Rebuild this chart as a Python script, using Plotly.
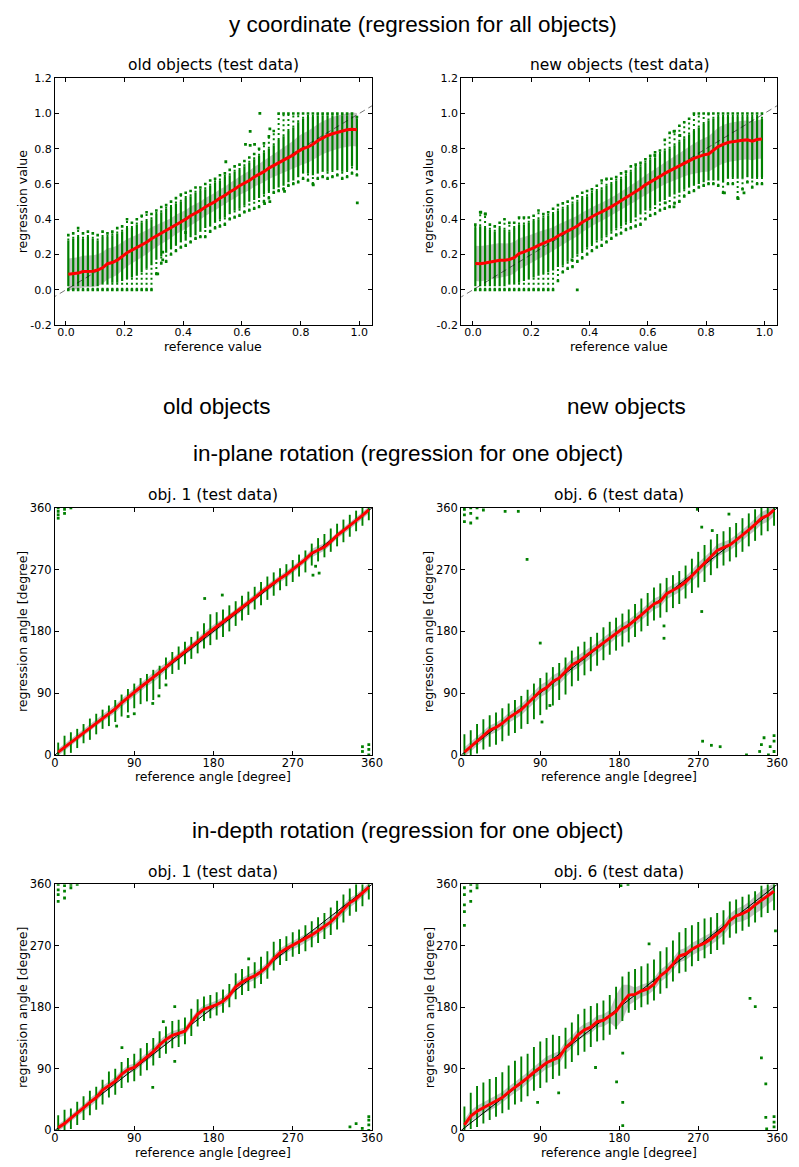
import plotly.graph_objects as go

# ---------------- data ----------------
# reference values of the 60 columns (top row, y coordinate)
ref_value = [0.0083,0.025,0.0417,0.0583,0.075,0.0917,0.1083,0.125,0.1417,0.1583,0.175,0.1917,
             0.2083,0.225,0.2417,0.2583,0.275,0.2917,0.3083,0.325,0.3417,0.3583,0.375,0.3917,
             0.4083,0.425,0.4417,0.4583,0.475,0.4917,0.5083,0.525,0.5417,0.5583,0.575,0.5917,
             0.6083,0.625,0.6417,0.6583,0.675,0.6917,0.7083,0.725,0.7417,0.7583,0.775,0.7917,
             0.8083,0.825,0.8417,0.8583,0.875,0.8917,0.9083,0.925,0.9417,0.9583,0.975,0.9917]

# old objects (test data)
old_mean = [0.088,0.090,0.095,0.104,0.105,0.106,0.112,0.125,0.148,0.155,0.168,0.190,
            0.210,0.225,0.240,0.255,0.270,0.290,0.305,0.320,0.335,0.350,0.370,0.385,
            0.400,0.420,0.435,0.450,0.470,0.485,0.500,0.520,0.535,0.555,0.570,0.590,
            0.605,0.620,0.640,0.655,0.670,0.690,0.705,0.720,0.735,0.750,0.765,0.785,
            0.800,0.810,0.825,0.845,0.862,0.875,0.885,0.893,0.900,0.907,0.910,0.907]
old_sd = [0.090,0.090,0.090,0.090,0.090,0.090,0.090,0.090,0.088,0.085,0.083,0.080,
          0.078,0.075,0.072,0.070,0.068,0.065,0.062,0.060,0.058,0.056,0.055,0.054,
          0.053,0.052,0.052,0.051,0.051,0.050,0.050,0.050,0.050,0.051,0.052,0.053,
          0.054,0.055,0.056,0.058,0.060,0.062,0.065,0.068,0.072,0.076,0.080,0.085,
          0.088,0.090,0.092,0.093,0.094,0.095,0.095,0.095,0.095,0.095,0.095,0.095]
old_min = [0,0,0,0,0,0,0,0,0,0,0,0,
           0,0,0,0,0,0,0.09,0.15,0.16,0.20,0.22,0.24,
           0.25,0.27,0.29,0.30,0.30,0.33,0.35,0.36,0.37,0.40,0.41,0.42,
           0.44,0.45,0.46,0.47,0.50,0.52,0.55,0.56,0.57,0.59,0.60,0.61,
           0.63,0.62,0.60,0.63,0.64,0.63,0.64,0.65,0.63,0.64,0.66,0.65]
old_lo = [0.02,0.02,0.02,0.02,0.02,0.02,0.02,0.03,0.03,0.04,0.04,0.05,
          0.06,0.07,0.08,0.10,0.12,0.14,0.17,0.19,0.21,0.23,0.25,0.27,
          0.28,0.30,0.31,0.33,0.35,0.36,0.38,0.40,0.41,0.43,0.45,0.46,
          0.48,0.50,0.51,0.52,0.54,0.56,0.57,0.58,0.59,0.61,0.62,0.64,
          0.66,0.66,0.65,0.66,0.67,0.67,0.68,0.68,0.67,0.68,0.70,0.68]
old_hi = [0.28,0.29,0.30,0.29,0.30,0.29,0.28,0.30,0.30,0.31,0.32,0.33,
          0.35,0.35,0.37,0.38,0.39,0.40,0.43,0.44,0.46,0.47,0.49,0.50,
          0.52,0.53,0.55,0.56,0.57,0.59,0.61,0.62,0.64,0.65,0.67,0.68,
          0.70,0.72,0.74,0.76,0.78,0.80,0.82,0.85,0.87,0.90,0.92,0.95,
          0.97,0.98,0.98,0.99,0.99,0.99,0.99,0.99,0.99,0.99,0.99,0.97]
old_max = [0.31,0.32,0.35,0.32,0.33,0.32,0.31,0.33,0.32,0.33,0.35,0.36,
           0.40,0.38,0.40,0.42,0.44,0.43,0.45,0.47,0.48,0.50,0.52,0.54,
           0.55,0.56,0.58,0.58,0.60,0.62,0.63,0.65,0.66,0.68,0.70,0.71,
           0.73,0.75,0.77,0.80,0.83,0.87,0.90,1.00,1.00,1.00,1.00,1.00,
           1.00,1.00,1.00,1.00,1.00,1.00,1.00,1.00,1.00,1.00,1.00,0.98]
old_out_x = [0.313,0.33,0.33,0.408,0.545,0.612,0.628,0.643,0.628,0.661,0.695,0.677,0.695,0.745,0.843,0.993]
old_out_y = [0.091,0.214,0.17,0.325,0.726,0.825,0.819,0.825,0.898,1.0,0.913,0.489,0.50,0.558,0.595,0.493]

# new objects (test data)
new_mean = [0.150,0.148,0.152,0.158,0.163,0.168,0.168,0.172,0.182,0.205,0.215,0.225,
            0.238,0.252,0.265,0.275,0.287,0.305,0.320,0.335,0.350,0.362,0.383,0.400,
            0.415,0.430,0.442,0.455,0.472,0.488,0.505,0.522,0.538,0.555,0.575,0.595,
            0.610,0.625,0.643,0.660,0.675,0.690,0.702,0.718,0.732,0.745,0.755,0.765,
            0.770,0.790,0.812,0.825,0.835,0.840,0.845,0.848,0.850,0.843,0.852,0.855]
new_sd = [0.100,0.100,0.100,0.100,0.100,0.098,0.095,0.092,0.090,0.088,0.085,0.082,
          0.080,0.077,0.074,0.071,0.068,0.066,0.064,0.062,0.060,0.058,0.056,0.055,
          0.054,0.053,0.052,0.052,0.051,0.051,0.051,0.052,0.052,0.053,0.054,0.055,
          0.056,0.058,0.060,0.062,0.064,0.066,0.070,0.075,0.080,0.085,0.090,0.095,
          0.100,0.105,0.108,0.110,0.110,0.110,0.110,0.110,0.110,0.110,0.110,0.110]
new_min = [0,0,0,0,0,0,0,0,0,0,0,0,
           0,0,0,0,0,0.05,0.10,0.12,0.13,0.16,0.18,0.20,
           0.22,0.24,0.25,0.27,0.29,0.31,0.32,0.34,0.35,0.36,0.37,0.40,
           0.42,0.43,0.45,0.46,0.47,0.49,0.50,0.53,0.55,0.56,0.58,0.59,
           0.60,0.60,0.59,0.55,0.60,0.60,0.52,0.57,0.61,0.58,0.60,0.60]
new_lo = [0.02,0.02,0.02,0.02,0.02,0.02,0.02,0.03,0.03,0.04,0.05,0.06,
          0.07,0.08,0.09,0.10,0.11,0.13,0.14,0.16,0.18,0.20,0.22,0.24,
          0.26,0.28,0.29,0.31,0.33,0.35,0.36,0.38,0.39,0.41,0.43,0.45,
          0.46,0.48,0.50,0.51,0.53,0.54,0.55,0.57,0.58,0.59,0.60,0.61,
          0.62,0.62,0.62,0.61,0.63,0.64,0.63,0.63,0.64,0.63,0.64,0.64]
new_hi = [0.35,0.36,0.35,0.34,0.33,0.35,0.34,0.33,0.35,0.37,0.37,0.38,
          0.39,0.40,0.41,0.42,0.43,0.45,0.46,0.47,0.49,0.50,0.52,0.53,
          0.55,0.56,0.57,0.59,0.60,0.62,0.63,0.65,0.67,0.69,0.70,0.72,
          0.74,0.75,0.77,0.79,0.80,0.82,0.84,0.86,0.88,0.90,0.92,0.94,
          0.96,0.97,0.98,0.98,0.98,0.98,0.98,0.98,0.98,0.98,0.98,0.97]
new_max = [0.37,0.44,0.43,0.37,0.36,0.38,0.40,0.38,0.38,0.41,0.41,0.41,
           0.42,0.45,0.43,0.44,0.46,0.48,0.49,0.50,0.52,0.53,0.55,0.56,
           0.57,0.59,0.62,0.63,0.63,0.64,0.66,0.67,0.70,0.71,0.72,0.74,
           0.76,0.78,0.79,0.85,0.89,0.90,0.93,0.95,0.97,1.00,1.00,1.00,
           1.00,1.00,1.00,1.00,1.00,1.00,1.00,1.00,1.00,1.00,1.00,1.00]
new_out_x = [0.358,0.027,0.043,0.34,0.69,0.71,0.66,0.69,0.91,0.93,0.863,0.624]
new_out_y = [0.0,0.44,0.43,0.17,0.898,0.875,0.493,0.47,0.517,0.55,0.55,0.763]

# reference angles of the 50 columns (rotation panels)
ref_angle = [3.6,10.8,18.0,25.2,32.4,39.6,46.8,54.0,61.2,68.4,75.6,82.8,90.0,97.2,104.4,111.6,118.8,
             126.0,133.2,140.4,147.6,154.8,162.0,169.2,176.4,183.6,190.8,198.0,205.2,212.4,219.6,
             226.8,234.0,241.2,248.4,255.6,262.8,270.0,277.2,284.4,291.6,298.8,306.0,313.2,320.4,
             327.6,334.8,342.0,349.2,356.4]

# in-plane rotation, obj. 1
ip1_mean = [4,11,19,26,33,40,47,54,60,67,76,84,91,99,106,113,121,128,136,143,
            150,157,165,173,180,187,193,200,208,214,221,229,237,244,251,257,263,270,277,285,
            294,299,303,311,320,327,334,341,349,357]
ip1_sd = [5,5,5,5,5,5,5,5,5,6,6,6,6,6,6,7,7,6,5,5,5,5,5,6,6,6,5,5,5,5,5,5,5,5,5,5,5,5,5,5,
          6,6,5,5,5,5,5,5,5,5]
ip1_lo = [0,0,3,10,17,22,30,38,42,48,56,62,68,74,78,80,96,110,118,124,132,140,148,155,160,168,
          172,180,188,196,204,212,218,226,232,240,246,252,260,266,276,282,288,296,304,310,318,326,334,342]
ip1_hi = [18,28,33,38,45,53,60,66,72,80,88,96,104,112,118,124,130,142,150,158,165,172,180,192,205,
          208,212,218,224,232,238,245,252,260,266,272,278,284,292,298,308,316,322,330,337,343,350,356,360,360]
ip1_out_x = [3.6,3.6,3.6,3.6,10.8,10.8,18,349.2,349.2,356.4,356.4,356.4,170,190,70,83,90,111,118,126,293,300,296]
ip1_out_y = [345,350,355,360,352,358,360,5,12,0,8,15,228,233,42,56,60,75,86,102,262,265,275]

# in-plane rotation, obj. 6
ip6_mean = [4,12,21,28,36,40,46,54,60,66,75,84,93,98,107,112,121,131,136,143,
            149,156,163,170,178,184,189,196,204,212,220,224,235,240,245,252,261,271,279,288,
            298,302,306,313,320,328,336,345,349,357]
ip6_sd = [7,7,7,7,7,7,7,7,8,8,8,9,9,9,9,9,9,9,9,8,8,8,8,8,8,8,8,8,8,8,8,8,8,8,8,8,8,9,9,9,
          9,8,8,8,8,8,9,9,9,9]
ip6_lo = [0,0,2,8,12,15,20,28,32,38,45,52,58,66,72,80,88,100,108,116,122,130,138,146,152,158,
          164,172,180,188,196,200,208,214,220,228,236,244,252,262,272,276,282,288,296,304,312,320,326,334]
ip6_hi = [30,36,45,52,58,62,68,75,80,86,95,104,112,120,128,134,142,152,158,165,172,178,186,194,200,
          206,212,220,228,236,244,250,258,262,268,276,286,296,306,314,322,326,332,338,345,352,358,360,360,360]
ip6_out_x = [3.6,3.6,3.6,10.8,10.8,10.8,18,18,25.2,50,65,75,90,92,101,231,231,275,285,295,325,340,342,
             345,350,352,356.4,356.4,356.4,269,274,286,305,274]
ip6_out_y = [340,350,358,338,352,360,345,360,357,355,355,285,163,48,72,188,170,20,14,12,0,5,15,
             25,0,12,5,20,28,358,332,327,351,209]

# in-depth rotation, obj. 1
id1_mean = [4,10,18,25,33,41,48,59,66,72,82,89,92,100,108,115,125,133,139,142,
            145,158,170,177,180,184,189,197,210,217,222,226,232,240,251,260,266,271,275,280,
            286,292,298,305,314,323,333,339,347,356]
id1_sd = [5,5,5,5,5,6,6,6,6,6,6,6,6,6,6,7,7,7,6,6,6,6,6,6,6,6,6,6,6,6,6,6,6,6,6,6,6,6,6,6,
          6,6,6,6,7,7,7,6,6,6]
id1_lo = [0,0,2,8,15,22,30,38,48,52,62,70,72,80,88,95,106,112,120,122,126,138,152,160,164,168,
          172,180,192,198,204,208,214,222,234,242,248,254,258,262,268,274,280,286,294,304,314,320,328,338]
id1_hi = [22,30,32,42,50,58,64,74,86,90,100,106,112,120,128,135,145,152,160,162,165,178,192,196,198,
          202,206,214,230,236,240,246,254,262,276,280,284,290,294,300,306,312,318,326,336,345,354,360,360,360]
id1_out_x = [3.6,3.6,3.6,3.6,10.8,10.8,10.8,18,18,25.2,335,342,349,356.4,356.4,356.4,356.4,111,76,123,136,136,220]
id1_out_y = [335,345,352,360,340,350,358,355,360,360,5,10,3,0,8,15,20,63,121,159,181,101,251]

# in-depth rotation, obj. 6
id6_mean = [8,21,28,33,37,42,48,56,63,69,77,85,92,99,103,107,121,129,140,147,
            151,159,161,167,174,187,198,199,204,207,214,226,233,243,255,258,265,270,274,280,
            287,295,307,314,317,322,330,337,343,350]
id6_sd = [8,8,8,8,8,8,8,8,8,8,8,8,9,9,9,9,9,9,9,9,9,9,9,9,24,26,15,10,9,9,9,9,9,9,9,9,9,9,9,9,
          9,9,10,10,11,12,13,14,13,12]
id6_lo = [0,2,5,10,15,20,25,30,38,42,50,58,62,70,75,80,90,100,110,115,122,130,132,140,148,160,
          172,176,180,184,190,200,208,218,230,232,240,248,252,258,264,272,282,288,292,298,304,312,318,322]
id6_hi = [35,55,65,70,75,78,85,95,102,108,112,122,130,135,140,138,150,158,170,178,182,186,190,198,210,
          225,232,236,240,244,250,262,268,278,290,296,300,305,310,312,318,322,335,338,342,345,350,358,360,360]
id6_out_x = [3.6,3.6,3.6,3.6,3.6,10.8,10.8,10.8,18,18,182,190,177,184,184,184,153,111,87,358,342,347,347,348,
             356.4,356.4,356.4,329,335,214]
id6_out_y = [300,320,330,345,355,335,350,360,355,360,358,360,71,41,7,113,92,55,41,292,106,68,19,2,
             5,12,20,193,181,273]

# tick labels
value_ticks = [-0.2, 0.0, 0.2, 0.4, 0.6, 0.8, 1.0, 1.2]
value_tick_text = ["-0.2", "0.0", "0.2", "0.4", "0.6", "0.8", "1.0", "1.2"]
ref_ticks = [0.0, 0.2, 0.4, 0.6, 0.8, 1.0]
ref_tick_text = ["0.0", "0.2", "0.4", "0.6", "0.8", "1.0"]
angle_ticks = [0, 90, 180, 270, 360]
angle_tick_text = ["0", "90", "180", "270", "360"]

# ---------------- figure ----------------
W, H = 799, 1167
GREEN = "#008000"

panels = [
    dict(title="old objects (test data)", x=ref_value, mean=old_mean, sd=old_sd, lo=old_lo, hi=old_hi,
         mn=old_min, mx=old_max, ox=old_out_x, oy=old_out_y, kind="value",
         box=(52, 375, 72, 322), xr=[-0.037, 1.043], xlab="reference value", ylab="regression value"),
    dict(title="new objects (test data)", x=ref_value, mean=new_mean, sd=new_sd, lo=new_lo, hi=new_hi,
         mn=new_min, mx=new_max, ox=new_out_x, oy=new_out_y, kind="value",
         box=(466, 788, 72, 322), xr=[-0.04, 1.044], xlab="reference value", ylab="regression value"),
    dict(title="obj. 1 (test data)", x=ref_angle, mean=ip1_mean, sd=ip1_sd, lo=ip1_lo, hi=ip1_hi,
         ox=ip1_out_x, oy=ip1_out_y, kind="angle",
         box=(52, 375, 507, 757), xr=[0, 360], xlab="reference angle [degree]", ylab="regression angle [degree]"),
    dict(title="obj. 6 (test data)", x=ref_angle, mean=ip6_mean, sd=ip6_sd, lo=ip6_lo, hi=ip6_hi,
         ox=ip6_out_x, oy=ip6_out_y, kind="angle",
         box=(466, 788, 507, 757), xr=[0, 360], xlab="reference angle [degree]", ylab="regression angle [degree]"),
    dict(title="obj. 1 (test data)", x=ref_angle, mean=id1_mean, sd=id1_sd, lo=id1_lo, hi=id1_hi,
         ox=id1_out_x, oy=id1_out_y, kind="angle",
         box=(52, 375, 888, 1137), xr=[0, 360], xlab="reference angle [degree]", ylab="regression angle [degree]"),
    dict(title="obj. 6 (test data)", x=ref_angle, mean=id6_mean, sd=id6_sd, lo=id6_lo, hi=id6_hi,
         ox=id6_out_x, oy=id6_out_y, kind="angle",
         box=(466, 788, 888, 1137), xr=[0, 360], xlab="reference angle [degree]", ylab="regression angle [degree]"),
]

fig = go.Figure()
annotations = []
layout_axes = {}


def segs(xs, a, b):
    X, Y = [], []
    for x, p, q in zip(xs, a, b):
        X += [x, x, None]
        Y += [p, q, None]
    return X, Y


for k, p in enumerate(panels, start=1):
    for key in ("mean", "sd", "lo", "hi"):
        assert len(p[key]) == len(p["x"]), (k, key)
    xa = "x" if k == 1 else f"x{k}"
    ya = "y" if k == 1 else f"y{k}"
    xs = p["x"]
    upper = [m + s for m, s in zip(p["mean"], p["sd"])]
    lower = [m - s for m, s in zip(p["mean"], p["sd"])]
    # grey band
    fig.add_trace(go.Scatter(x=xs + xs[::-1], y=upper + lower[::-1], fill="toself",
                             fillcolor="rgba(0,0,0,0.24)", line=dict(width=0), mode="lines",
                             hoverinfo="skip", xaxis=xa, yaxis=ya))
    if p["kind"] == "value":
        X1, Y1 = segs(xs, p["mn"], p["lo"])
        X2, Y2 = segs(xs, p["hi"], p["mx"])
        fig.add_trace(go.Scatter(x=X1 + X2, y=Y1 + Y2, mode="lines",
                                 line=dict(color=GREEN, width=2, dash="2px,3px"),
                                 xaxis=xa, yaxis=ya, hoverinfo="skip"))
        fig.add_trace(go.Scatter(x=xs + xs, y=p["mn"] + p["mx"], mode="markers",
                                 marker=dict(color=GREEN, size=2.6, symbol="square"),
                                 xaxis=xa, yaxis=ya, hoverinfo="skip"))
        sw = 2.2
        tf = 11
    else:
        sw = 1.9
        tf = 11.5
    Xs, Ys = segs(xs, p["lo"], p["hi"])
    fig.add_trace(go.Scatter(x=Xs, y=Ys, mode="lines", line=dict(color=GREEN, width=sw),
                             xaxis=xa, yaxis=ya, hoverinfo="skip"))
    fig.add_trace(go.Scatter(x=p["ox"], y=p["oy"], mode="markers",
                             marker=dict(color=GREEN, size=2.8, symbol="square"),
                             xaxis=xa, yaxis=ya, hoverinfo="skip"))
    # diagonal
    if p["kind"] == "value":
        fig.add_trace(go.Scatter(x=[-0.05, 1.05], y=[-0.05, 1.05], mode="lines",
                                 line=dict(color="rgba(0,0,0,0.55)", width=1, dash="6px,4px"),
                                 xaxis=xa, yaxis=ya, hoverinfo="skip"))
    else:
        fig.add_trace(go.Scatter(x=[0, 360], y=[0, 360], mode="lines",
                                 line=dict(color="black", width=1),
                                 xaxis=xa, yaxis=ya, hoverinfo="skip"))
    # mean
    fig.add_trace(go.Scatter(x=xs, y=p["mean"], mode="lines", line=dict(color="#ff0000", width=3),
                             xaxis=xa, yaxis=ya, hoverinfo="skip"))

    x0, x1, y0, y1 = p["box"]
    common = dict(showline=True, linecolor="black", linewidth=1.2, mirror="allticks",
                  ticks="inside", ticklen=4, tickcolor="black", tickwidth=1,
                  showgrid=False, zeroline=False, fixedrange=True,
                  tickfont=dict(family="DejaVu Sans", size=tf, color="black"))
    if p["kind"] == "value":
        xt = dict(tickmode="array", tickvals=ref_ticks, ticktext=ref_tick_text)
        yt = dict(tickmode="array", tickvals=value_ticks, ticktext=value_tick_text)
        yr = [-0.2, 1.2]
    else:
        xt = dict(tickmode="array", tickvals=angle_ticks, ticktext=angle_tick_text)
        yt = dict(tickmode="array", tickvals=angle_ticks, ticktext=angle_tick_text)
        yr = [0, 360]
    layout_axes["xaxis" if k == 1 else f"xaxis{k}"] = dict(
        domain=[x0 / W, x1 / W], range=p["xr"], anchor=ya, ticklabelstandoff=-3, **xt, **common)
    layout_axes["yaxis" if k == 1 else f"yaxis{k}"] = dict(
        domain=[1 - y1 / H, 1 - y0 / H], range=yr, anchor=xa, **yt, **common)

    cx = (x0 + x1) / 2
    cy = (y0 + y1) / 2
    annotations.append(dict(text=p["title"], x=cx / W, y=1 - (y0 - 13) / H, xref="paper", yref="paper",
                            showarrow=False, xanchor="center", yanchor="middle",
                            font=dict(family="DejaVu Sans", size=15.5, color="black")))
    annotations.append(dict(text=p["xlab"], x=cx / W, y=1 - (y1 + 22) / H, xref="paper", yref="paper",
                            showarrow=False, xanchor="center", yanchor="middle",
                            font=dict(family="DejaVu Sans", size=12.5, color="black")))
    annotations.append(dict(text=p["ylab"], x=(x0 - 33) / W, y=1 - cy / H, xref="paper", yref="paper",
                            showarrow=False, xanchor="center", yanchor="middle", textangle=-90,
                            font=dict(family="DejaVu Sans", size=12.5, color="black")))

headers = [
    ("y coordinate (regression for all objects)", 427, 18),
    ("old objects", 217, 404),
    ("new objects", 634, 404),
    ("in-plane rotation (regression for one object)", 412, 452),
    ("in-depth rotation (regression for one object)", 412, 833),
]
for txt, hx, hy in headers:
    annotations.append(dict(text=txt, x=hx / W, y=1 - hy / H, xref="paper", yref="paper",
                            showarrow=False, xanchor="center", yanchor="middle",
                            font=dict(family="Liberation Sans", size=22.5, color="black")))

fig.update_layout(width=W, height=H, margin=dict(l=0, r=0, t=0, b=0),
                  paper_bgcolor="white", plot_bgcolor="white", showlegend=False,
                  annotations=annotations, **layout_axes)

fig.write_html("out.html")
